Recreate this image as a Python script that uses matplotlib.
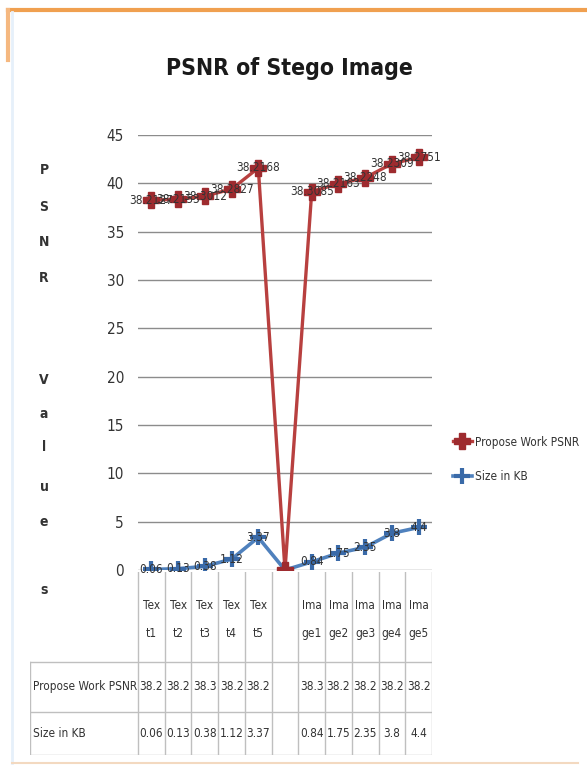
import numpy as np
import matplotlib.pyplot as plt
from matplotlib.lines import Line2D

# data
categories = ["Text1", "Text2", "Text3", "Text4", "Text5", "", "Image1", "Image2", "Image3", "Image4", "Image5"]
psnr = [38.2127, 38.2153, 38.3012, 38.2827, 38.21682, 0, 38.3085, 38.2163, 38.2248, 38.2309, 38.2751]
size_kb = [0.06, 0.13, 0.38, 1.12, 3.37, 0, 0.84, 1.75, 2.35, 3.8, 4.4]
psnr_table = ["38.2", "38.2", "38.3", "38.2", "38.2", "", "38.3", "38.2", "38.2", "38.2", "38.2"]
size_table = ["0.06", "0.13", "0.38", "1.12", "3.37", "", "0.84", "1.75", "2.35", "3.8", "4.4"]

plt.rcParams['font.family'] = ['DejaVu Sans']
plt.rcParams['font.stretch'] = 'condensed'

W, H = 587, 773
fig = plt.figure(figsize=(W / 100, H / 100), dpi=100)
fig.patch.set_facecolor('white')

# outer frame (orange top edge like the slide)
fig.add_artist(Line2D([8 / W, 1], [1 - 10 / H, 1 - 10 / H], color='#F0A050', lw=3))
fig.add_artist(Line2D([8 / W, 8 / W], [1 - 10 / H, 1 - 60 / H], color='#F5B880', lw=3))
fig.add_artist(Line2D([12 / W, 12 / W], [1 - 12 / H, 10 / H], color='#E6F0FA', lw=2))
fig.add_artist(Line2D([12 / W, 578 / W], [10 / H, 10 / H], color='#F3D9C0', lw=1.5))

fig.text(289 / W, 1 - 68 / H, 'PSNR of Stego Image', ha='center', va='center',
         fontsize=16.5, fontweight='bold', color='#1a1a1a')

# main plot, stacked line chart (PSNR stacked on size)
x = np.arange(len(categories))
stacked = [p + s for p, s in zip(psnr, size_kb)]

ax = fig.add_axes([138 / W, 1 - 570 / H, 294 / W, 435 / H])
ax.plot(x, size_kb, color='#4F81BD', lw=2.6, marker='+', ms=11, mew=3,
        mec='#3A6AA8', zorder=3, label='Size in KB')
ax.plot(x, stacked, color='#B8403F', lw=2.4, marker='P', ms=12,
        mfc='#9E2B2F', mec='#9E2B2F', zorder=4, label='Propose Work PSNR')
ax.set_xlim(-0.5, len(categories) - 0.5)
ax.set_ylim(0, 45)
ax.set_yticks(range(0, 46, 5))
ax.set_xticks([])
ax.grid(axis='y', color='#8C8C8C', lw=1)
ax.set_axisbelow(True)
for s in ax.spines.values():
    s.set_visible(False)
ax.tick_params(axis='y', length=0, pad=10, labelsize=11, labelcolor='#333333')

for i in range(len(categories)):
    if categories[i] == "":
        continue
    ax.annotate(f'{psnr[i]:g}', (x[i], stacked[i]), ha='center', va='center',
                fontsize=8.5, color='#333333', zorder=5)
    ax.annotate(size_table[i], (x[i], size_kb[i]), ha='center', va='center',
                fontsize=8.5, color='#333333', zorder=5)

# vertical axis title, one letter per line
ylab = "PSNR Values".replace(' ', '')
ypos = [170, 207, 242, 278, 380, 414, 447, 487, 522, 590]
for ch, yp in zip(ylab, ypos):
    fig.text(44 / W, 1 - yp / H, ch, ha='center', va='center', fontsize=10,
             fontweight='bold', color='#333333')

# data table under the chart
tax = fig.add_axes([30 / W, 1 - 755 / H, 402 / W, 183 / H])
left = -0.5 - 108 / (294 / len(categories))
tax.set_xlim(left, len(categories) - 0.5)
tax.set_ylim(0, 1)
tax.axis('off')
lc = '#BFBFBF'
for k in range(len(categories) + 1):
    tax.plot([k - 0.5, k - 0.5], [0, 1], color=lc, lw=1)
tax.plot([left, left], [0, 0.508], color=lc, lw=1)
for yy in [0.508, 0.235, 0.0]:
    tax.plot([left, len(categories) - 0.5], [yy, yy], color=lc, lw=1)

for i, c in enumerate(categories):
    tax.text(x[i], 0.74, c[:3] + '\n' + c[3:], ha='center', va='center',
             fontsize=8.5, color='#333333', linespacing=2.5)
    tax.text(x[i], 0.372, psnr_table[i], ha='center', va='center', fontsize=8.5, color='#333333')
    tax.text(x[i], 0.118, size_table[i], ha='center', va='center', fontsize=8.5, color='#333333')
tax.text(left + 0.1, 0.372, 'Propose Work PSNR', ha='left', va='center', fontsize=8.5, color='#333333')
tax.text(left + 0.1, 0.118, 'Size in KB', ha='left', va='center', fontsize=8.5, color='#333333')

# legend on the right
h, l = ax.get_legend_handles_labels()
fig.legend(h[::-1], l[::-1], loc='upper left', bbox_to_anchor=(442 / W, 1 - 425 / H),
           frameon=False, fontsize=8.5, labelspacing=1.8, handlelength=1.6,
           handletextpad=0.3, labelcolor='#333333')

fig.savefig('out.png', dpi=100)
